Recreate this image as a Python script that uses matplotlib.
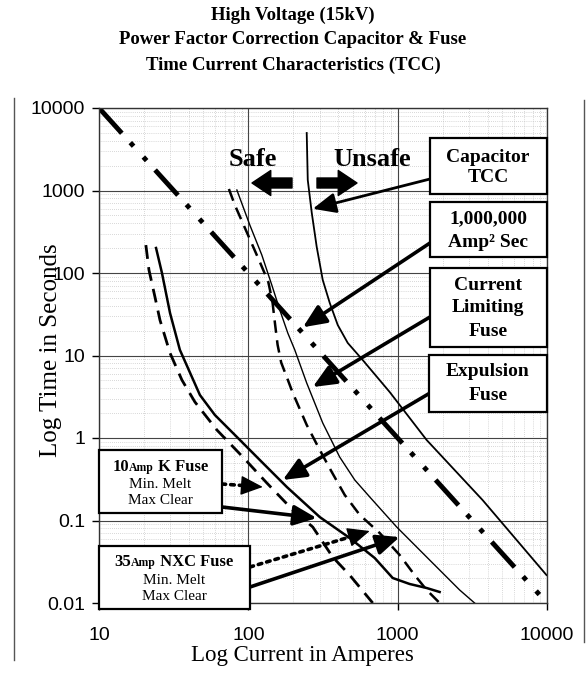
import numpy as np
import matplotlib
matplotlib.use('Agg')
import matplotlib.pyplot as plt
from matplotlib.patches import Rectangle, FancyArrowPatch
from matplotlib.lines import Line2D
from matplotlib.offsetbox import TextArea, HPacker, AnnotationBbox

# 10 Amp K fuse (expulsion) - min melt / max clear
k_melt_amps = [20.6, 21.6, 23.7, 25.6, 29.9, 35.9, 43.9, 61.6, 91.9, 133, 198.5, 270, 367, 477, 681]
k_melt_secs = [218, 109, 51.2, 26.9, 10.7, 5.05, 2.73, 1.25, 0.588, 0.285, 0.134, 0.0834, 0.0361, 0.0218, 0.01]
k_clear_amps = [24.1, 26.4, 29.9, 34.8, 47.4, 59.7, 83.8, 119.4, 181, 301, 477, 702, 926, 1203, 1563, 1910]
k_clear_secs = [201, 100, 32.7, 11.7, 3.32, 1.90, 1.03, 0.541, 0.255, 0.110, 0.0614, 0.0351, 0.0201, 0.0170, 0.0152, 0.0136]

# 35 Amp NXC fuse (current limiting) - min melt / max clear
nxc_melt_amps = [74.1, 81.2, 96.2, 119.4, 136, 145, 151, 157, 166, 180, 198.5, 246, 301, 362, 442, 557, 758, 1031, 1299, 1563, 1910]
nxc_melt_secs = [1043, 667, 332, 136, 78, 45, 24, 13.5, 8.2, 5.6, 3.51, 1.44, 0.715, 0.387, 0.204, 0.117, 0.0705, 0.0382, 0.0218, 0.0144, 0.01]
nxc_clear_amps = [83.8, 102.3, 123.1, 143.6, 162.5, 183.8, 204.6, 246, 315, 409, 516, 650, 985, 1637, 2598, 3274]
nxc_clear_secs = [1014, 382, 165.3, 71.5, 35.6, 18.7, 11.7, 4.64, 1.52, 0.588, 0.31, 0.193, 0.0834, 0.0332, 0.0144, 0.01]

# capacitor case rupture curve
cap_amps = [246, 250, 266, 287, 315, 351, 397, 463, 583, 884, 1563, 3703, 9924]
cap_secs = [4977, 1341, 534, 207, 82.3, 43.3, 23.4, 14.2, 8.82, 3.61, 0.946, 0.177, 0.0218]

# 1,000,000 A^2 s line
i2t_amps = [10, 10000]
i2t_secs = [10000, 0.01]

ticks_y = [0.01, 0.1, 1, 10, 100, 1000, 10000]
ticks_y_lbl = ['0.01', '0.1', '1', '10', '100', '1000', '10000']
ticks_x = [10, 100, 1000, 10000]
ticks_x_lbl = ['10', '100', '1000', '10000']

W, H = 586, 673
SERIF = 'Liberation Serif'
SANS = 'Liberation Sans'


def fx(px):
    return px / W


def fy(py):
    return 1 - py / H


fig = plt.figure(figsize=(W / 100, H / 100), dpi=100)
fig.patch.set_facecolor('white')
ax = fig.add_axes([fx(99), fy(603), (547 - 99) / W, (603 - 108) / H])

ax.plot(k_melt_amps, k_melt_secs, color='black', lw=2.0, ls=(0, (5, 3)))
ax.plot(k_clear_amps, k_clear_secs, color='black', lw=1.8)
ax.plot(nxc_melt_amps, nxc_melt_secs, color='black', lw=1.8, ls=(0, (5, 3)))
ax.plot(nxc_clear_amps, nxc_clear_secs, color='black', lw=1.0)
ax.plot(cap_amps, cap_secs, color='black', lw=1.3)
ax.plot(i2t_amps, i2t_secs, color='black', lw=3.5,
        ls=(0, (7, 2.6, 1.0, 3.0, 1.0, 2.6)), dash_capstyle='butt')

ax.set_xscale('log')
ax.set_yscale('log')
ax.set_xlim(10, 10000)
ax.set_ylim(0.01, 10000)
ax.set_xticks(ticks_x)
ax.set_xticklabels(ticks_x_lbl, fontsize=14, family=SANS)
ax.set_yticks(ticks_y)
ax.set_yticklabels(ticks_y_lbl, fontsize=14, family=SANS)
ax.tick_params(which='major', direction='out', length=5, width=1)
ax.tick_params(axis='y', which='major', pad=5)
ax.tick_params(axis='x', which='major', pad=12)
ax.tick_params(which='minor', length=0)
ax.grid(which='major', color='#444444', lw=0.8, ls='-')
ax.grid(which='minor', color='#b4b4b4', lw=0.5, ls=(0, (1, 2)))
for s in ax.spines.values():
    s.set_linewidth(1.0)
    s.set_color('#333333')

# titles and axis labels
title_lines = ['High Voltage (15kV)', 'Power Factor Correction Capacitor & Fuse',
               'Time Current Characteristics (TCC)']
for line, yy in zip(title_lines, [15, 40, 65]):
    fig.text(fx(293), fy(yy), line, ha='center', va='center', fontsize=13.5,
             fontweight='bold', family=SERIF)
fig.text(fx(51), fy(350), 'Log Time in Seconds', rotation=90, ha='center', va='center',
         fontsize=18, family=SERIF)
fig.text(fx(302), fy(655), 'Log Current in Amperes', ha='center', va='center',
         fontsize=16.5, family=SERIF)

# page frame lines
fig.add_artist(Line2D([fx(14), fx(14)], [fy(98), fy(660)], color='#555555', lw=1))
fig.add_artist(Line2D([fx(584), fx(584)], [fy(100), fy(642)], color='#555555', lw=1))

# Safe / Unsafe
fig.text(fx(253), fy(160), 'Safe', ha='center', va='center', fontsize=19,
         fontweight='bold', family=SERIF, zorder=6)
fig.text(fx(372), fy(160), 'Unsafe', ha='center', va='center', fontsize=19,
         fontweight='bold', family=SERIF, zorder=6)
block = dict(arrowstyle='simple,head_length=0.45,head_width=0.6,tail_width=0.24',
             mutation_scale=30, color='black', shrinkA=0, shrinkB=0)
fig.add_artist(FancyArrowPatch((fx(292), fy(183)), (fx(252), fy(183)),
                               transform=fig.transFigure, **block))
fig.add_artist(FancyArrowPatch((fx(317), fy(183)), (fx(357), fy(183)),
                               transform=fig.transFigure, **block))


def label_box(x0, y0, x1, y1):
    fig.add_artist(Rectangle((fx(x0), fy(y1)), (x1 - x0) / W, (y1 - y0) / H,
                             transform=fig.transFigure, facecolor='white',
                             edgecolor='black', lw=1.6, zorder=5))


def box_text(x, y, s, size=14, weight='bold'):
    fig.text(fx(x), fy(y), s, ha='center', va='center', fontsize=size,
             fontweight=weight, family=SERIF, zorder=6)


HEAD = '-|>,head_length=0.5,head_width=0.22'


def pointer(tail, tip, lw=2.6, dotted=False):
    tail_fig = (fx(tail[0]), fy(tail[1]))
    if not dotted:
        ax.annotate('', xy=tip, xycoords='data', xytext=tail_fig,
                    textcoords='figure fraction',
                    arrowprops=dict(arrowstyle=HEAD, mutation_scale=28, lw=lw,
                                    color='black', shrinkA=0, shrinkB=0))
        return
    # dotted shaft with a solid head on top
    ax.annotate('', xy=tip, xycoords='data', xytext=tail_fig,
                textcoords='figure fraction',
                arrowprops=dict(arrowstyle='-', lw=lw, ls=(0, (1, 1.4)),
                                color='black', shrinkA=0, shrinkB=14))
    tip_px = ax.transData.transform(tip)
    tail_px = fig.transFigure.transform(tail_fig)
    d = tip_px - tail_px
    d = d / np.hypot(*d)
    base_px = tip_px - d * 24
    ax.annotate('', xy=tip, xycoords='data', xytext=tuple(base_px),
                textcoords='figure pixels',
                arrowprops=dict(arrowstyle=HEAD, mutation_scale=28, lw=1.0,
                                color='black', shrinkA=0, shrinkB=0))


# right-hand callouts
label_box(430, 138, 547, 194)
box_text(488, 157, 'Capacitor')
box_text(488, 178, 'TCC')
label_box(430, 202, 547, 257)
box_text(488, 219, '1,000,000')
box_text(488, 242, 'Amp² Sec')
label_box(430, 268, 547, 347)
box_text(488, 285, 'Current')
box_text(488, 308, 'Limiting')
box_text(488, 331, 'Fuse')
label_box(429, 355, 547, 412)
box_text(488, 372, 'Expulsion')
box_text(488, 395, 'Fuse')

pointer((430, 179), (270, 600), lw=2.0)
pointer((430, 243), (232, 22))
pointer((430, 317), (270, 4.15))
pointer((430, 393), (170, 0.31))

# left-hand fuse callouts
label_box(99, 450, 222, 513)
label_box(99, 546, 250, 609)


def fuse_header(x, y, num, name):
    parts = [TextArea(num, textprops=dict(fontsize=12, fontweight='bold', family=SERIF)),
             TextArea('Amp', textprops=dict(fontsize=8.5, fontweight='bold', family=SERIF)),
             TextArea(' ' + name, textprops=dict(fontsize=12, fontweight='bold', family=SERIF))]
    pack = HPacker(children=parts, align='baseline', pad=0, sep=0)
    ab = AnnotationBbox(pack, (fx(x), fy(y)), xycoords='figure fraction', frameon=False,
                        box_alignment=(0.5, 0.5), pad=0, zorder=7)
    fig.add_artist(ab)


fuse_header(160, 467, '10', 'K Fuse')
box_text(160, 484, 'Min. Melt', size=11, weight='normal')
box_text(160, 500, 'Max Clear', size=11, weight='normal')
fuse_header(174, 562, '35', 'NXC Fuse')
box_text(174, 580, 'Min. Melt', size=11, weight='normal')
box_text(174, 597, 'Max Clear', size=11, weight='normal')

pointer((222, 484), (125, 0.255), lw=2.6, dotted=True)
pointer((222, 507), (287, 0.107))
pointer((250, 567), (650, 0.0746), lw=2.6, dotted=True)
pointer((250, 587), (1030, 0.063))

fig.savefig('out.png', dpi=100)
